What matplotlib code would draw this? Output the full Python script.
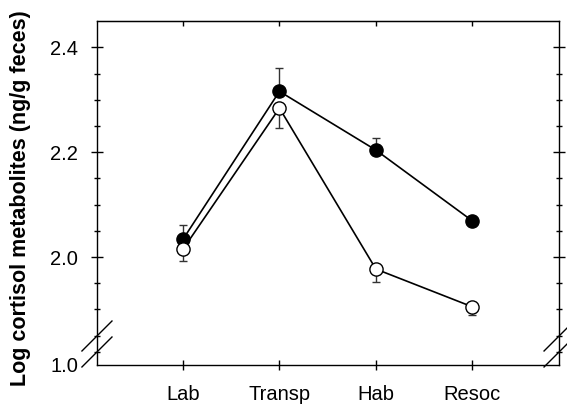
import numpy as np
import matplotlib
matplotlib.use("Agg")
import matplotlib.pyplot as plt

plt.rcParams['font.family'] = ['Liberation Sans', 'DejaVu Sans']

# values
categories = ["Lab", "Transp", "Hab", "Resoc"]
filled_mean = [2.034, 2.316, 2.204, 2.069]
filled_err = [0.028, 0.045, 0.024, 0.006]
open_mean = [2.015, 2.284, 1.977, 1.905]
open_err = [0.022, 0.038, 0.024, 0.015]

ybot, ytop = 1.794, 2.45
x = np.arange(1, len(categories) + 1)

fig = plt.figure(figsize=(5.67, 4.05), dpi=100)
ax = fig.add_axes([0.171, 0.0988, 0.815, 0.849])

# error bars (one-sided: filled up, open down)
ax.errorbar(x, filled_mean, yerr=[np.zeros(4), filled_err], fmt='none',
            ecolor='#333333', elinewidth=1.0, capsize=3, capthick=1.0, zorder=2)
ax.errorbar(x, open_mean, yerr=[open_err, np.zeros(4)], fmt='none',
            ecolor='#333333', elinewidth=1.0, capsize=3, capthick=1.0, zorder=2)

ax.plot(x, filled_mean, '-o', color='black', lw=1.2, ms=9.5,
        mfc='black', mec='black', zorder=3)
ax.plot(x, open_mean, '-o', color='black', lw=1.2, ms=9.5,
        mfc='white', mec='black', mew=1.0, zorder=4)

ax.set_xlim(0.107, 4.9)
ax.set_ylim(ybot, ytop)

ax.set_xticks(x)
ax.set_xticklabels(categories, fontsize=14.5)
ax.tick_params(axis='x', direction='inout', length=7, width=1.0, pad=11)

ax.set_yticks([ybot, 2.0, 2.2, 2.4])
ax.set_yticklabels(["1.0", "2.0", "2.2", "2.4"], fontsize=14.5)
ax.set_yticks([1.819, 1.85, 1.9, 1.95, 2.05, 2.1, 2.15, 2.25, 2.3, 2.35], minor=True)
ax.tick_params(axis='y', which='major', direction='inout', length=9, width=1.0,
               pad=9, right=True)
ax.tick_params(axis='y', which='minor', direction='inout', length=5, width=1.0,
               right=True)
ax.yaxis.get_major_ticks()[0].tick1line.set_visible(False)
ax.yaxis.get_major_ticks()[0].tick2line.set_visible(False)

top = ax.secondary_xaxis('top')
top.set_xticks(x)
top.set_xticklabels([])
top.tick_params(direction='in', length=3.6, width=1.0)

for s in ax.spines.values():
    s.set_linewidth(1.0)

ax.set_ylabel("Log cortisol metabolites (ng/g feces)", fontsize=15.5,
              fontweight='bold')
ax.yaxis.set_label_coords(-0.143, 0.485)

# axis break marks
dx, dy = 0.0325, 0.0436
for xs in (0.0, 1.0):
    for yb in (0.0843, 0.0378):
        ax.plot([xs - dx, xs + dx], [yb - dy, yb + dy], color='black', lw=1.0,
                transform=ax.transAxes, clip_on=False)

fig.savefig("out.png", dpi=100)
